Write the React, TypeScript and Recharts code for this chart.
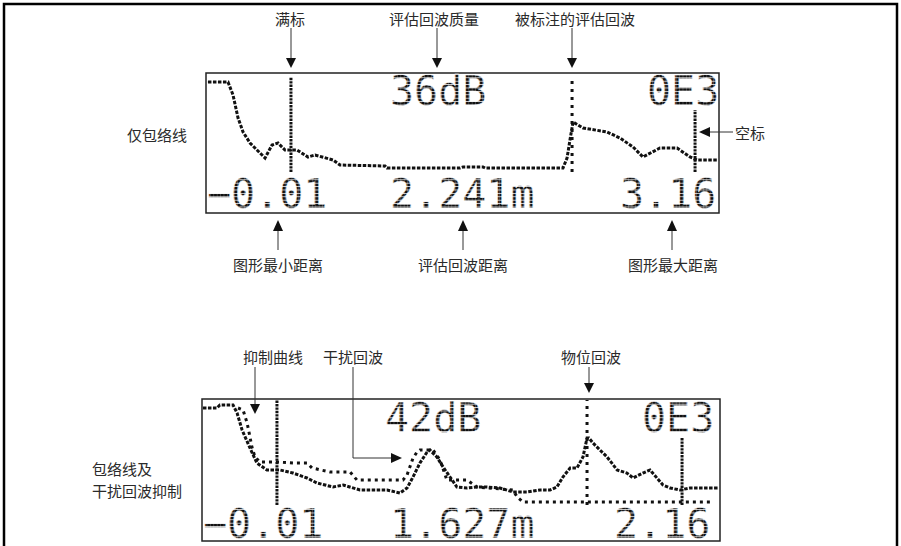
import React from 'react';
import { LineChart, Line, XAxis, YAxis, ReferenceLine } from 'recharts';

// envelope only (upper display): distance in m, amplitude in display units
const topDist = [0.002, 0.126, 0.157, 0.188, 0.219, 0.262, 0.305, 0.355, 0.398, 0.435, 0.478, 0.552, 0.62, 0.664, 0.775, 0.818, 1.096, 1.108, 1.56, 1.578, 1.702, 1.714, 2.196, 2.221, 2.239, 2.258, 2.32, 2.468, 2.548, 2.629, 2.69, 2.795, 2.901, 2.981, 3.024, 3.154];
const topAmp = [131, 131, 118, 95, 81, 70, 63, 55, 68, 70, 63, 63, 56, 58, 53, 48, 47, 45, 45, 46, 46, 45, 45, 55, 73, 91, 85, 81, 75, 66, 56, 65, 65, 56, 53, 53];

// envelope with interference suppression (lower display)
const botDist = [-0.006, 0.053, 0.065, 0.12, 0.137, 0.158, 0.191, 0.22, 0.262, 0.317, 0.371, 0.43, 0.472, 0.539, 0.581, 0.652, 0.765, 0.819, 0.849, 0.874, 0.903, 0.933, 0.945, 0.974, 1.0, 1.029, 1.058, 1.1, 1.142, 1.184, 1.238, 1.293, 1.351, 1.406, 1.448, 1.477, 1.502, 1.532, 1.561, 1.586, 1.603, 1.611, 1.628, 1.657, 1.687, 1.729, 1.77, 1.796, 1.837, 1.867, 1.896, 1.921, 1.951, 1.992, 2.034, 2.156];
const botEnv = [131, 131, 134, 134, 126, 109, 91, 76, 69, 69, 66, 61, 56, 52, 54, 49, 49, 46, 51, 62, 76, 87, 89, 82, 72, 62, 52, 51, 52, 52, 51, 47, 47, 49, 49, 52, 62, 71, 71, 82, 101, 101, 96, 89, 82, 69, 66, 61, 66, 69, 61, 54, 51, 49, 51, 51];

const supDist = [0.141, 0.162, 0.179, 0.191, 0.199, 0.212, 0.233, 0.304, 0.371, 0.43, 0.451, 0.526, 0.61, 0.639, 0.832, 0.849, 0.874, 0.891, 0.903, 0.958, 0.987, 1.016, 1.1, 1.142, 1.293, 1.31, 1.335, 2.127];
const supAmp = [131, 129, 116, 102, 92, 82, 77, 77, 76, 76, 71, 67, 67, 59, 59, 64, 81, 87, 89, 89, 79, 59, 59, 52, 49, 42, 37, 37];

// markers: [distance, lowAmp, highAmp]
const topFull = [0.515, 41, 136];
const topEcho = [2.252, 41, 136];
const topEmpty = [3.012, 41, 103];
const botFull = [0.304, 34, 139];
const botEcho = [1.603, 34, 139];
const botEmpty = [2.001, 34, 102];

const topText = ['36dB', '0E3', '\u22120.01', '2.241m', '3.16'];
const botText = ['42dB', '0E3', '\u22120.01', '1.627m', '2.16'];

const topData = topDist.map((d, i) => ({ d, amp: topAmp[i] }));
const envData = botDist.map((d, i) => ({ d, amp: botEnv[i] }));
const supData = supDist.map((d, i) => ({ d, amp: supAmp[i] }));

const INK = '#111';
const CJK = '"Noto Sans CJK SC", "Noto Sans", sans-serif';
const MONO = '"DejaVu Sans Mono", monospace';

function Marker({ m, dash }: { m: number[]; dash: string }) {
  return (
    <ReferenceLine
      segment={[{ x: m[0], y: m[1] }, { x: m[0], y: m[2] }]}
      stroke={INK}
      strokeWidth={3}
      strokeDasharray={dash}
      ifOverflow="extendDomain"
    />
  );
}

function Label({ x, y, text, anchor = 'middle' }: { x: number; y: number; text: string; anchor?: string }) {
  return (
    <text x={x} y={y} textAnchor={anchor as any} dominantBaseline="central" fontFamily={CJK} fontSize={15} fill="#2a2a2a">
      {text}
    </text>
  );
}

function DownArrow({ x, y1, y2 }: { x: number; y1: number; y2: number }) {
  return (
    <g>
      <line x1={x} y1={y1} x2={x} y2={y2 - 9} stroke="#333" strokeWidth={1} />
      <polygon points={`${x - 5},${y2 - 10} ${x + 5},${y2 - 10} ${x},${y2}`} fill={INK} />
    </g>
  );
}

function UpArrow({ x, y1, y2 }: { x: number; y1: number; y2: number }) {
  return (
    <g>
      <line x1={x} y1={y1} x2={x} y2={y2 + 9} stroke="#333" strokeWidth={1} />
      <polygon points={`${x - 5},${y2 + 11} ${x + 5},${y2 + 11} ${x},${y2}`} fill={INK} />
    </g>
  );
}

function LcdText({ x, y, text }: { x: number; y: number; text: string }) {
  return (
    <text x={x} y={y} fontFamily={MONO} fontSize={40} fill="url(#lcdDots)" stroke="#fff" strokeWidth={0.4}>
      {text}
    </text>
  );
}

export default function App() {
  return (
    <div style={{ position: 'absolute', left: 0, top: 0, width: 901, height: 546, background: '#fff', overflow: 'hidden' }}>
      <div style={{ position: 'absolute', left: 206, top: 73 }}>
        <LineChart width={513} height={140} data={topData} margin={{ top: 0, right: 0, bottom: 0, left: 0 }}>
          <XAxis dataKey="d" type="number" domain={[-0.01, 3.16]} hide />
          <YAxis type="number" domain={[0, 140]} hide />
          <Marker m={topFull} dash="2.4 1" />
          <Marker m={topEcho} dash="3 5" />
          <Marker m={topEmpty} dash="2.4 1" />
          <Line dataKey="amp" type="linear" stroke={INK} strokeWidth={3} strokeDasharray="3.5 1.5" dot={false} isAnimationActive={false} />
        </LineChart>
      </div>
      <div style={{ position: 'absolute', left: 202, top: 399 }}>
        <LineChart width={518} height={140} margin={{ top: 0, right: 0, bottom: 0, left: 0 }}>
          <XAxis dataKey="d" type="number" domain={[-0.01, 2.16]} hide allowDuplicatedCategory={false} />
          <YAxis type="number" domain={[0, 140]} hide />
          <Marker m={botFull} dash="2.4 1" />
          <Marker m={botEcho} dash="3 5" />
          <Marker m={botEmpty} dash="2.4 1" />
          <Line data={supData} dataKey="amp" type="linear" stroke={INK} strokeWidth={3} strokeDasharray="3 4" dot={false} isAnimationActive={false} />
          <Line data={envData} dataKey="amp" type="linear" stroke={INK} strokeWidth={3} strokeDasharray="3.5 1.5" dot={false} isAnimationActive={false} />
        </LineChart>
      </div>
      <svg width={901} height={546} style={{ position: 'absolute', left: 0, top: 0, pointerEvents: 'none' }}>
        <defs>
          <pattern id="lcdDots" width={3.4} height={3.4} patternUnits="userSpaceOnUse">
            <rect width={3.2} height={2.7} fill={INK} />
          </pattern>
        </defs>
        <path d="M4,546 V4 H897 V546" fill="none" stroke="#000" strokeWidth={2.5} />
        <rect x={206} y={73} width={513} height={140} fill="none" stroke="#222" strokeWidth={1.5} />
        <rect x={202} y={399} width={518} height={142} fill="none" stroke="#222" strokeWidth={1.5} />

        <LcdText x={390} y={105} text={topText[0]} />
        <LcdText x={647} y={105} text={topText[1]} />
        <LcdText x={207} y={208} text={topText[2]} />
        <LcdText x={390} y={208} text={topText[3]} />
        <LcdText x={620} y={208} text={topText[4]} />
        <LcdText x={385} y={432} text={botText[0]} />
        <LcdText x={642} y={432} text={botText[1]} />
        <LcdText x={203} y={538} text={botText[2]} />
        <LcdText x={390} y={538} text={botText[3]} />
        <LcdText x={614} y={538} text={botText[4]} />

        <Label x={290} y={18} text="满标" />
        <Label x={434} y={18} text="评估回波质量" />
        <Label x={575} y={18} text="被标注的评估回波" />
        <DownArrow x={291} y1={28} y2={68} />
        <DownArrow x={437} y1={28} y2={68} />
        <DownArrow x={572} y1={28} y2={68} />

        <Label x={127} y={134} text="仅包络线" anchor="start" />
        <Label x={735} y={132} text="空标" anchor="start" />
        <line x1={733} y1={132} x2={709} y2={132} stroke="#333" strokeWidth={1} />
        <polygon points="699,132 710,127 710,137" fill={INK} />

        <UpArrow x={278} y1={250} y2={220} />
        <UpArrow x={463} y1={250} y2={220} />
        <UpArrow x={672} y1={250} y2={220} />
        <Label x={278} y={264} text="图形最小距离" />
        <Label x={463} y={264} text="评估回波距离" />
        <Label x={673} y={264} text="图形最大距离" />

        <Label x={273} y={356} text="抑制曲线" />
        <Label x={353} y={356} text="干扰回波" />
        <Label x={591} y={356} text="物位回波" />
        <DownArrow x={255} y1={367} y2={414} />
        <DownArrow x={589} y1={367} y2={393} />
        <polyline points="353,367 353,458 392,458" fill="none" stroke="#333" strokeWidth={1} />
        <polygon points="391,453 391,463 402,458" fill={INK} />

        <Label x={92} y={468} text="包络线及" anchor="start" />
        <Label x={92} y={490} text="干扰回波抑制" anchor="start" />
      </svg>
    </div>
  );
}
